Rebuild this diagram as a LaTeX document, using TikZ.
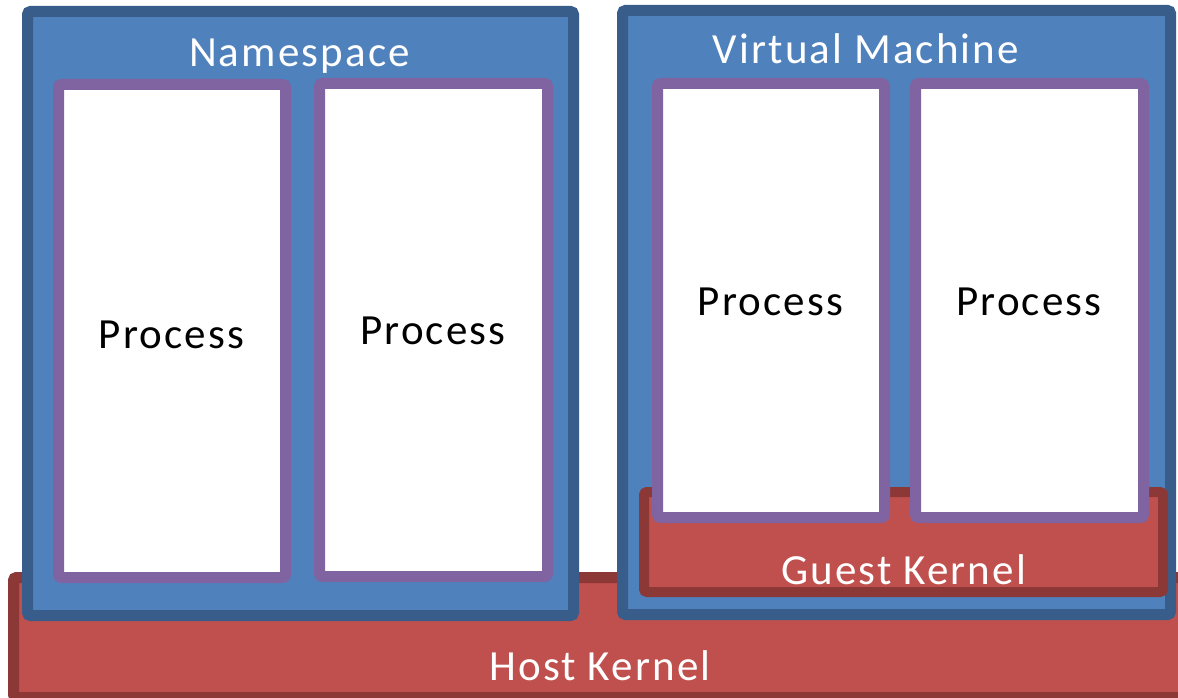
\documentclass[tikz,border=0pt]{standalone}
\usepackage{fontspec}
\setmainfont{Carlito}[LetterSpace=5]
\definecolor{blueFill}{HTML}{4F81BD}
\definecolor{blueLine}{HTML}{385D8A}
\definecolor{redFill}{HTML}{C0504D}
\definecolor{redLine}{HTML}{8C3836}
\definecolor{procLine}{HTML}{8064A2}
\tikzset{
  container/.style={draw=blueLine, fill=blueFill, line width=11pt, rounded corners=3pt},
  kernel/.style={draw=redLine, fill=redFill, line width=11pt, rounded corners=3pt},
  procbox/.style={draw=procLine, fill=white, line width=11pt, rounded corners=3pt},
  lbl/.style={anchor=base, inner sep=0pt, font=\fontsize{43}{51}\selectfont},
  wlbl/.style={lbl, text=white},
  blbl/.style={lbl, text=black}
}
\begin{document}
\begin{tikzpicture}[x=1pt, y=-1pt]
  \useasboundingbox (0,0) rectangle (1178,698);
  \clip (0,0) rectangle (1178,698);

  % host kernel underneath everything
  \draw[kernel] (13.5,577.5) rectangle (1184,697.5);
  \node[wlbl] (host) at (600,680) {Host Kernel};

  % namespace container with two processes
  \draw[container] (27.5,11.5) rectangle (573.5,615.5);
  \node[wlbl] (ns) at (299.5,67) {Namespace};
  \draw[procbox] (58.5,84.5) rectangle (285.5,577.5);
  \draw[procbox] (319.5,83.5) rectangle (547.5,576.5);
  \node[blbl] (p1) at (171.5,348) {Process};
  \node[blbl] (p2) at (433,344) {Process};

  % virtual machine with its guest kernel and two processes
  \draw[container] (622.5,10.5) rectangle (1170.5,614.5);
  \node[wlbl] (vm) at (866,64) {Virtual Machine};
  \draw[kernel, line width=10pt] (644,492) rectangle (1163,592);
  \node[wlbl] (guest) at (903.5,584) {Guest Kernel};
  \draw[procbox] (657.5,83.5) rectangle (884.5,517.5);
  \draw[procbox] (915.5,83.5) rectangle (1143.5,517.5);
  \node[blbl] (p3) at (770.5,315) {Process};
  \node[blbl] (p4) at (1029,315) {Process};
\end{tikzpicture}
\end{document}
